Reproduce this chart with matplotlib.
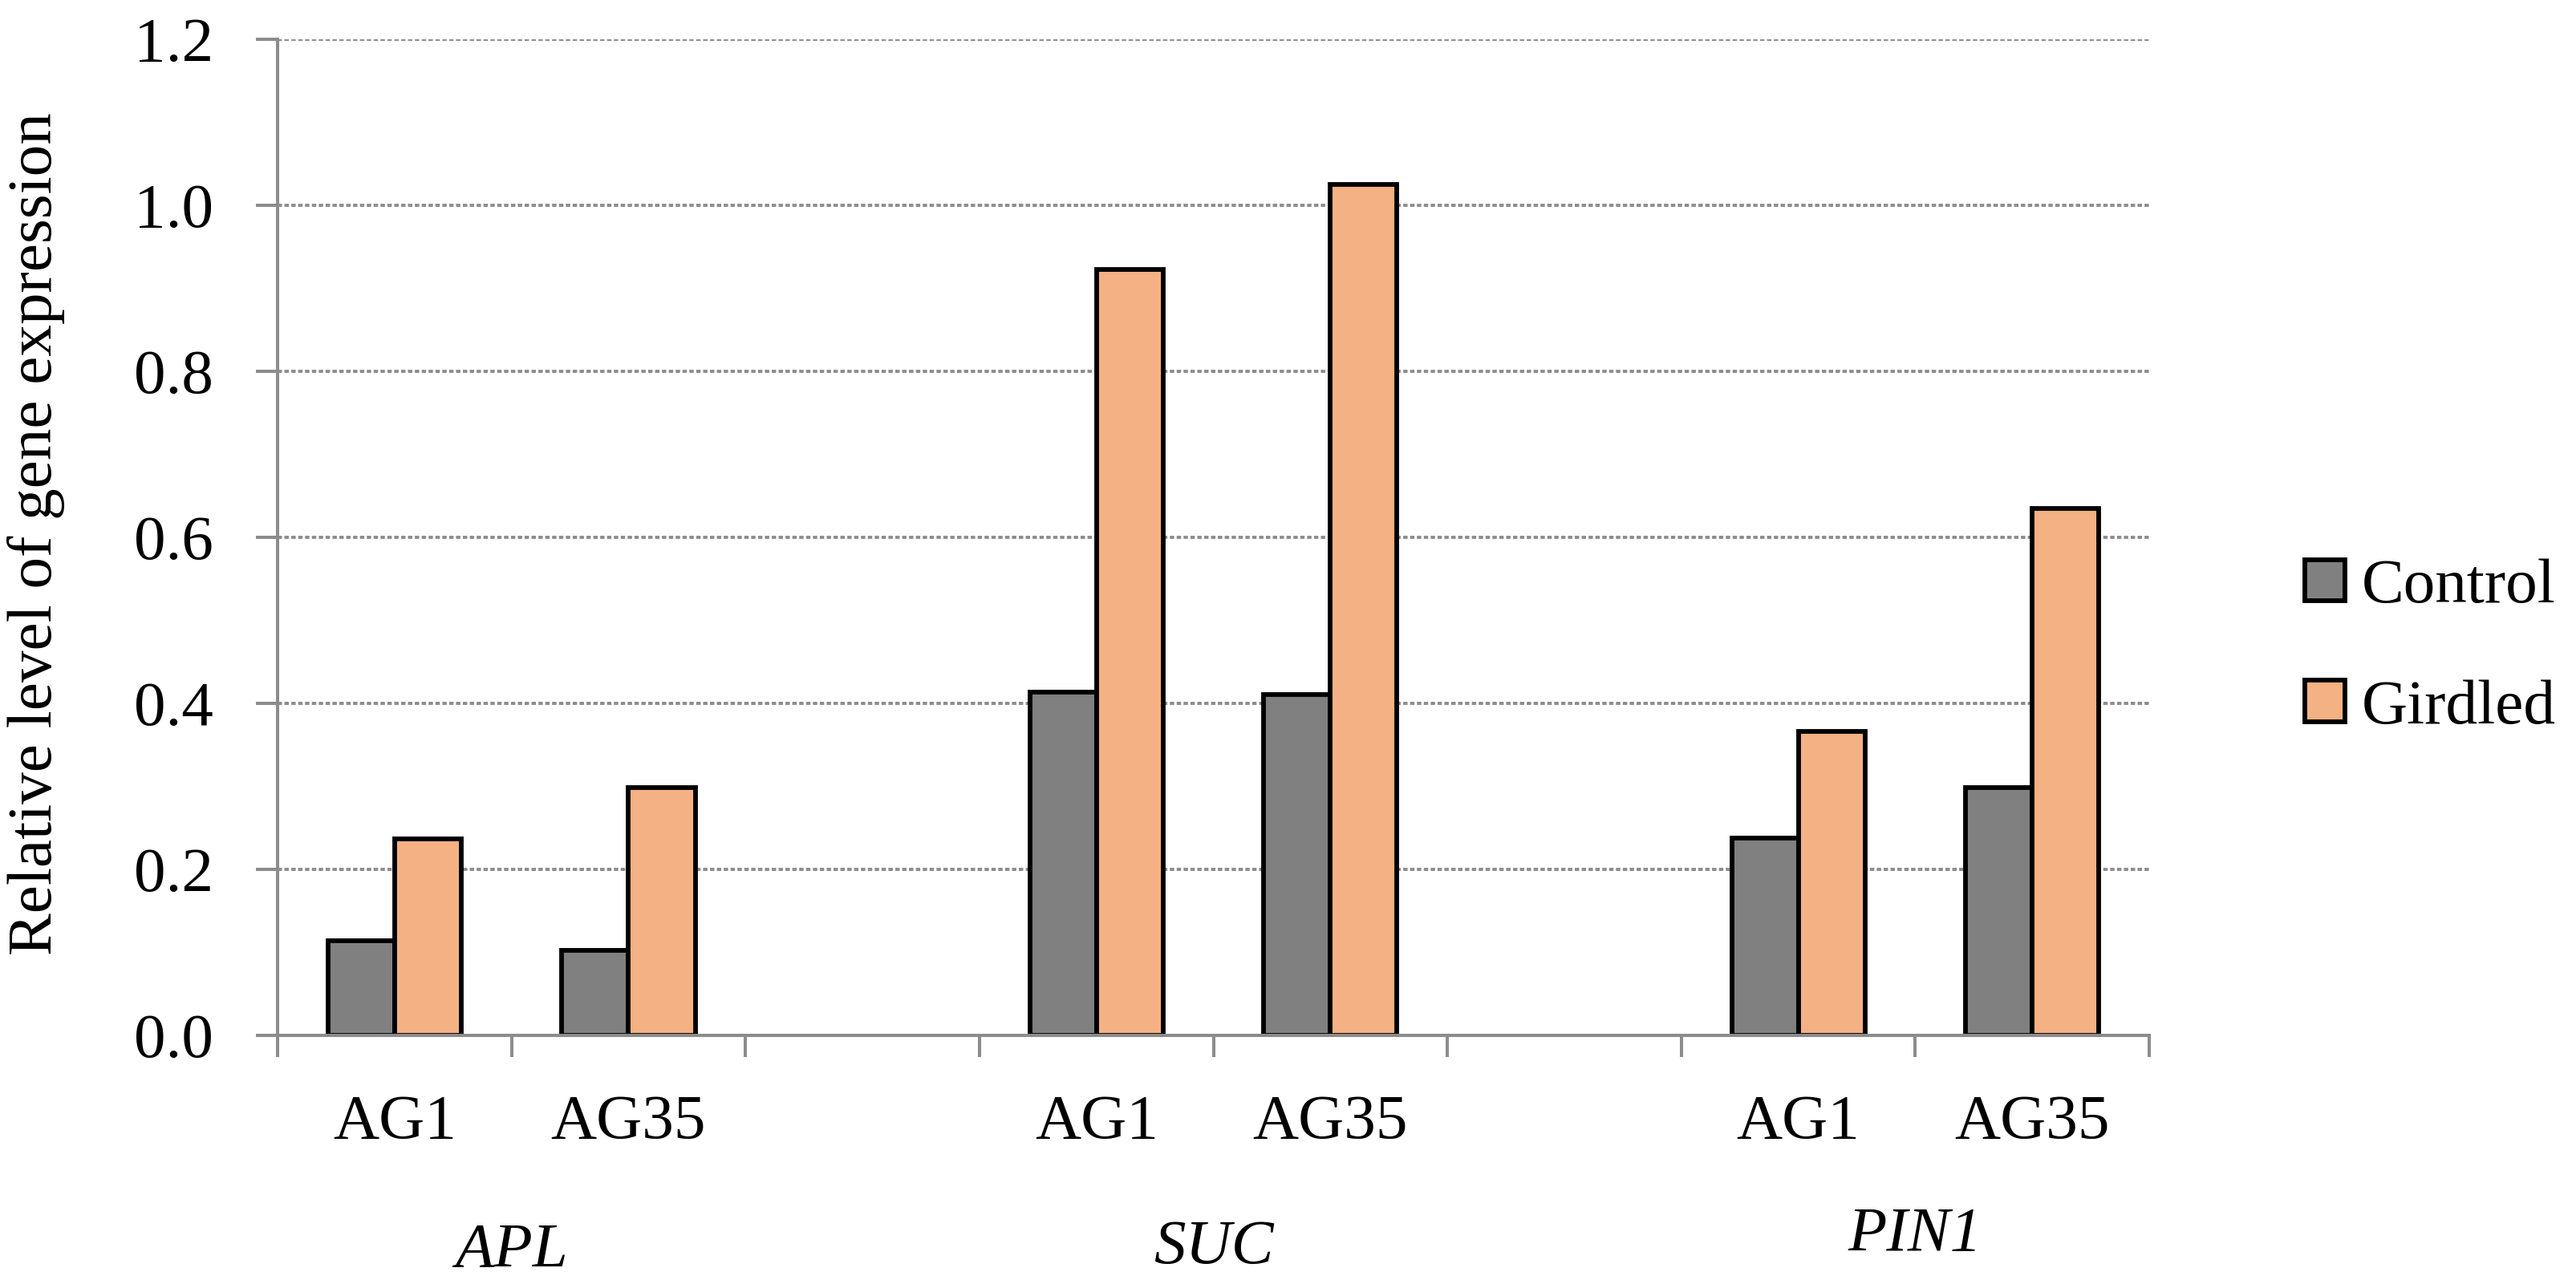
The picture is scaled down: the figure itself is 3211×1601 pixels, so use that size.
"""
Relative gene expression of APL, SUC and PIN1 in control and girdled plants.
"""

import matplotlib

matplotlib.use("Agg")

import matplotlib.pyplot as plt
import matplotlib.transforms as mtransforms
from matplotlib.patches import Patch

GENES = ["APL", "SUC", "PIN1"]
SAMPLES = ["AG1", "AG35"]

CONTROL = [0.114, 0.102, 0.414, 0.411, 0.238, 0.299]
GIRDLED = [0.237, 0.299, 0.923, 1.025, 0.366, 0.635]

Y_TICKS = [0.0, 0.2, 0.4, 0.6, 0.8, 1.0, 1.2]

CONTROL_COLOR = "#808080"
GIRDLED_COLOR = "#F4B183"
AXIS_COLOR = "#8C8C8C"
FONT_SIZE = 57

plt.rcParams["font.family"] = ["Liberation Serif", "DejaVu Serif"]

figure = plt.figure(figsize=(32.12, 16.01), dpi=100)
axis = figure.add_axes([0.1077, 0.1936, 0.8341 - 0.1077, 0.9694 - 0.1936])

# each gene takes two slots, followed by one empty slot
slot_centers = []
slot_labels = []
for gene_index, gene in enumerate(GENES):
    for sample_index, sample in enumerate(SAMPLES):
        slot_centers.append(gene_index * 3 + sample_index + 0.5)
        slot_labels.append(sample)

bar_width = 0.285

axis.bar(
    [x - bar_width / 2 for x in slot_centers],
    CONTROL,
    width=bar_width,
    color=CONTROL_COLOR,
    edgecolor="black",
    linewidth=4.2,
    label="Control",
    zorder=3,
)
axis.bar(
    [x + bar_width / 2 for x in slot_centers],
    GIRDLED,
    width=bar_width,
    color=GIRDLED_COLOR,
    edgecolor="black",
    linewidth=4.2,
    label="Girdled",
    zorder=3,
)

axis.set_xlim(0, 8)
axis.set_ylim(0, 1.2)

axis.set_yticks(Y_TICKS)
axis.set_yticklabels([f"{value:.1f}" for value in Y_TICKS])

axis.set_xticks(range(9))
axis.set_xticklabels([])
axis.set_xticks(slot_centers, minor=True)
axis.set_xticklabels(slot_labels, minor=True)

axis.tick_params(
    axis="both",
    which="major",
    direction="out",
    length=19.5,
    width=2.9,
    color=AXIS_COLOR,
    labelsize=FONT_SIZE,
)
axis.tick_params(axis="y", pad=38)
axis.tick_params(
    axis="x",
    which="minor",
    length=0,
    pad=53,
    labelsize=FONT_SIZE,
)

for side in ["top", "right"]:
    axis.spines[side].set_visible(False)
for side in ["left", "bottom"]:
    axis.spines[side].set_color(AXIS_COLOR)
    axis.spines[side].set_linewidth(2.9)
    axis.spines[side].set_zorder(4)

axis.yaxis.grid(
    True,
    color=AXIS_COLOR,
    linewidth=2.8,
    linestyle=(0, (1.4, 0.8)),
)
axis.set_axisbelow(True)

figure.text(
    45 / 3212,
    1 - 666 / 1601,
    "Relative level of gene expression",
    rotation=90,
    ha="center",
    va="center",
    fontsize=FONT_SIZE,
)

# gene names centred under their two samples
label_transform = mtransforms.blended_transform_factory(
    axis.transData,
    figure.transFigure,
)
gene_label_y = [1560, 1556, 1540]
for gene_index, gene in enumerate(GENES):
    axis.text(
        gene_index * 3 + 1,
        1 - gene_label_y[gene_index] / 1601,
        gene,
        transform=label_transform,
        ha="center",
        va="center",
        fontsize=FONT_SIZE,
        style="italic",
    )

handles = [
    Patch(facecolor=CONTROL_COLOR, edgecolor="black", linewidth=4.2),
    Patch(facecolor=GIRDLED_COLOR, edgecolor="black", linewidth=4.2),
]
figure.legend(
    handles,
    ["Control", "Girdled"],
    loc="center left",
    bbox_to_anchor=(2873 / 3212, 1 - 808 / 1601),
    frameon=False,
    fontsize=FONT_SIZE,
    handlelength=0.63,
    handleheight=0.63,
    handletextpad=0.26,
    labelspacing=1.0,
    borderpad=0,
    borderaxespad=0,
)

figure.savefig("out.png", dpi=100)
plt.close(figure)
